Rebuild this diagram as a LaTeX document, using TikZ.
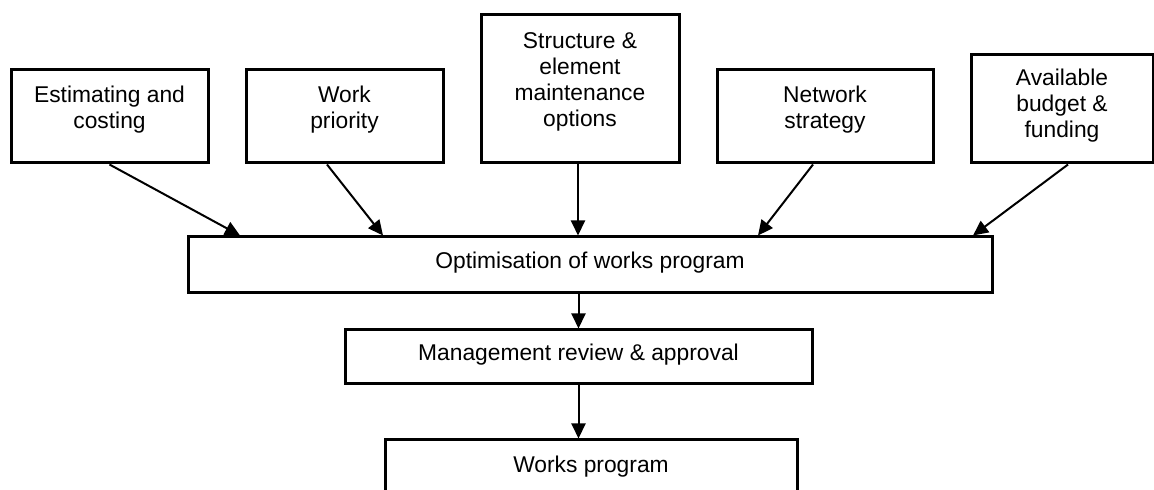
\documentclass[tikz,border=0pt]{standalone}
\usepackage{fontspec}
\setmainfont{Liberation Sans}
\usetikzlibrary{arrows.meta,calc}
\begin{document}
\begin{tikzpicture}[
  x=0.5pt, y=-0.5pt,
  box/.style={draw, line width=1.5pt, align=center, inner sep=0pt,
    font=\fontsize{11.4pt}{13pt}\selectfont},
  inbox/.style={box, text depth=9.5pt},
  flowbox/.style={box, text depth=5pt},
  arr/.style={-{Triangle[length=7.5pt,width=7pt]}, line width=1pt}
]

  % Frame
  \useasboundingbox (0,0) rectangle (1154,490);

  % Input blocks
  \node[inbox, minimum width=98.5pt, minimum height=46.5pt] (est) at (109.5,116.5) {Estimating and\\costing};
  \node[inbox, minimum width=98.5pt, minimum height=46.5pt] (prio) at (344.5,116.5) {Work\\priority};
  \node[inbox, minimum width=99pt, minimum height=74pt] (struct) at (580,89) {Structure \&\\element\\maintenance\\options};
  \node[inbox, minimum width=108pt, minimum height=46.5pt] (net) at (825,116.5) {Network\\strategy};
  \node[inbox, text depth=5.5pt, minimum width=91pt, minimum height=54pt] (budget) at (1062,109) {Available\\budget \&\\funding};

  % Main flow
  \node[flowbox, minimum width=402pt, minimum height=28pt] (opt) at (590,265) {Optimisation of works program};
  \node[flowbox, minimum width=233.5pt, minimum height=27pt] (mgmt) at (578.5,357) {Management review \& approval};
  \node[box, minimum width=206pt, minimum height=27pt] (works) at (591,467) {Works program};

  % Arrows into optimisation
  \foreach \src/\dx/\tx in {est/0/-350, prio/-17.5/-207, struct/-2/-12, net/-12/168, budget/6/383}
    \draw[arr] ($(\src.south)+(\dx,0)$) -- ($(opt.north)+(\tx,0)$);

  \draw[arr] (mgmt.north |- opt.south) -- (mgmt.north);
  \draw[arr] (mgmt.south) -- (mgmt.south |- works.north);

\end{tikzpicture}
\end{document}
